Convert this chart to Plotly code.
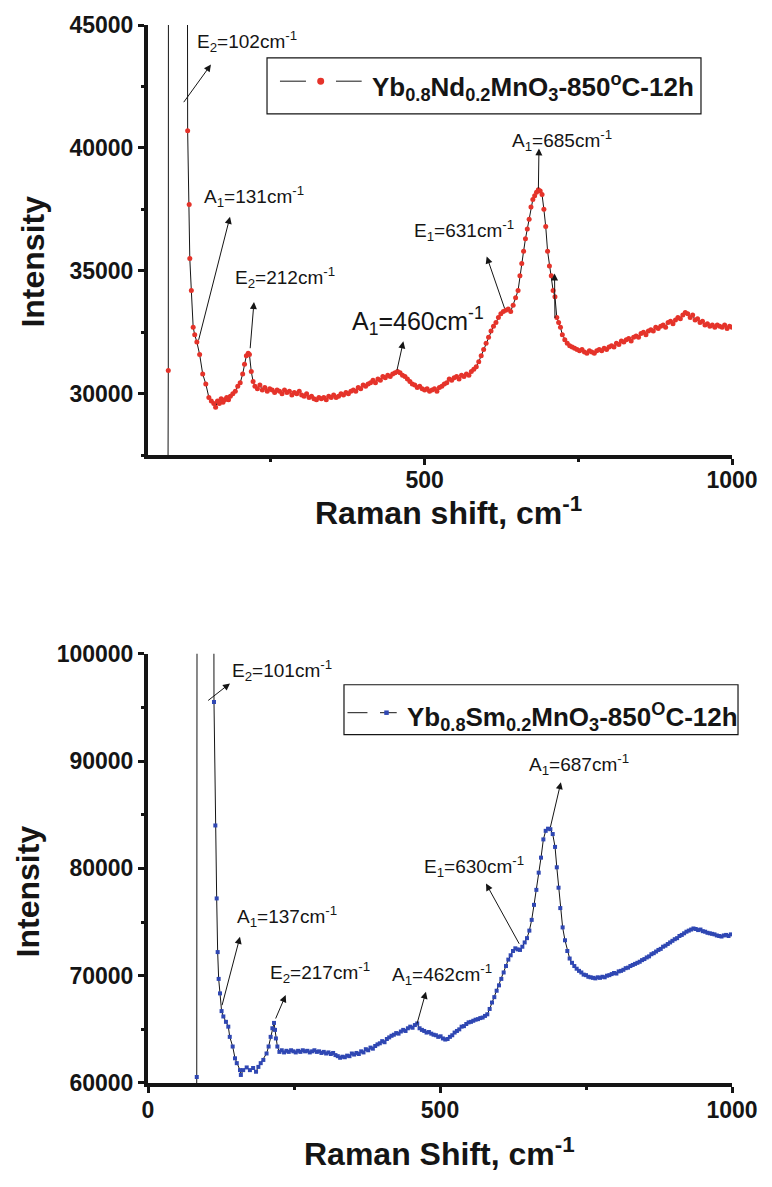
import plotly.graph_objects as go
from plotly.subplots import make_subplots

# ---- Raman spectrum: Yb0.8Nd0.2MnO3, 850 C, 12 h ----
nd_shift = [81, 83, 86, 100, 111, 114.5, 117, 118, 120.5, 123.5, 126, 129.5, 134, 139, 144, 149, 153, 157, 160, 163,
            166, 169, 172, 175, 178, 181, 184, 188, 192, 196, 200, 204, 207, 210, 213, 215, 218, 221, 224, 228,
            232, 236, 240, 244, 248, 252, 256, 260, 264, 268, 272, 276, 280, 284, 288, 292, 296, 300, 304, 308,
            312, 316, 320, 324, 328, 332, 336, 340, 344, 348, 352, 356, 360, 364, 368, 372, 376, 380, 384, 388,
            392, 396, 400, 404, 408, 412, 416, 420, 424, 428, 432, 436, 440, 444, 448, 452, 456, 460, 464, 468,
            472, 476, 480, 484, 488, 492, 496, 500, 504, 508, 512, 516, 520, 524, 528, 532, 536, 540, 544, 548,
            552, 556, 560, 564, 568, 572, 576, 580, 584, 588, 592, 596, 600, 604, 608, 612, 616, 620, 624, 628,
            632, 636, 640, 644, 648, 652, 655, 658, 661, 664, 667, 670, 673, 676, 679, 682, 685, 688, 691, 694,
            697, 700, 703, 706, 709, 712, 715, 718, 721, 724, 728, 732, 736, 740, 744, 748, 752, 756, 760, 764,
            768, 772, 776, 780, 784, 788, 792, 796, 800, 804, 808, 812, 816, 820, 824, 828, 832, 836, 840, 844,
            848, 852, 856, 860, 864, 868, 872, 876, 880, 884, 888, 892, 896, 900, 904, 908, 912, 916, 920, 924,
            928, 932, 936, 940, 944, 948, 952, 956, 960, 964, 968, 972, 976, 980, 984, 988, 992, 996, 1000]
nd_intensity = [12000, 30950, 230000, 380000, 110000, 40700, 37700, 35500, 34200, 32700, 32400, 32100, 31600, 30800, 30400, 29850, 29700, 29600, 29450, 29700,
                29600, 29800, 29650, 29750, 29850, 29750, 29900, 30000, 30100, 30300, 30450, 30800, 31200, 31550, 31650, 31600, 30900, 30500, 30300, 30200,
                30350, 30150, 30250, 30100, 30200, 30150, 30050, 30150, 30100, 30000, 30150, 30050, 30100, 29950, 30050, 30000, 30100, 29950, 29900, 30000,
                29850, 29900, 29800, 29750, 29850, 29800, 29850, 29750, 29900, 29850, 29950, 29850, 29900, 30000, 29950, 30050, 30000, 30100, 30150, 30100,
                30250, 30200, 30350, 30300, 30400, 30450, 30550, 30450, 30600, 30550, 30700, 30650, 30750, 30700, 30800, 30850, 30900, 30850, 30750, 30700,
                30600, 30500, 30400, 30350, 30250, 30300, 30200, 30150, 30200, 30100, 30150, 30200, 30100, 30250, 30300, 30400, 30450, 30600, 30550, 30650,
                30700, 30600, 30750, 30700, 30800, 30750, 30900, 31000, 31100, 31300, 31550, 31800, 32050, 32300, 32550, 32750, 32900, 33100, 33250, 33350,
                33400, 33450, 33350, 33600, 33900, 34200, 34800, 35300, 35800, 36300, 36700, 37100, 37600, 37900, 38050, 38200, 38300, 38250, 38100, 37500,
                36800, 35800, 35200, 34800, 34200, 33950, 33100, 32900, 32700, 32400, 32200, 32050, 31950, 31900, 31850, 31800, 31750, 31800, 31700, 31650,
                31750, 31700, 31650, 31750, 31800, 31750, 31850, 31800, 31900, 31950, 31900, 32050, 32000, 32150, 32100, 32200, 32250, 32150, 32300, 32350,
                32300, 32450, 32500, 32400, 32550, 32600, 32550, 32700, 32650, 32750, 32800, 32700, 32900, 32950, 32850, 33000, 33100, 33050, 33200, 33300,
                33250, 33100, 33200, 33000, 33050, 32900, 32950, 32800, 32850, 32750, 32800, 32700, 32800, 32750, 32700, 32800, 32650, 32750, 32700]

# ---- Raman spectrum: Yb0.8Sm0.2MnO3, 850 C, 12 h ----
sm_shift = [81, 83.5, 86, 100, 110, 113, 115.3, 117.6, 119.3, 121, 123.3, 126, 129, 133.5, 137.5, 140, 145, 149, 152, 157.5,
            159, 163, 169, 174.5, 180, 185, 189, 193, 197.5, 203, 206.5, 210, 213, 215.8, 217.5, 219, 221.5, 225, 229, 233,
            237, 241, 245, 249, 253, 257, 261, 265, 269, 273, 277, 281, 285, 289, 293, 297, 301, 305, 309, 313,
            317, 321, 325, 329, 333, 337, 341, 345, 349, 353, 357, 361, 365, 369, 373, 377, 381, 385, 389, 393,
            397, 401, 405, 409, 413, 417, 421, 425, 429, 433, 437, 441, 445, 449, 453, 457, 461, 465, 469, 473,
            477, 481, 485, 489, 493, 497, 501, 505, 509, 513, 517, 521, 525, 529, 533, 537, 541, 545, 549, 553,
            557, 561, 565, 569, 573, 577, 581, 585, 589, 593, 597, 601, 605, 609, 613, 617, 621, 625, 629, 633,
            637, 641, 645, 649, 653, 657, 661, 665, 669, 673, 677, 681, 685, 689, 693, 697, 700, 703, 706, 710,
            714, 718, 722, 726, 730, 734, 738, 742, 746, 750, 754, 758, 762, 766, 770, 774, 778, 782, 786, 790,
            794, 798, 802, 806, 810, 814, 818, 822, 826, 830, 834, 838, 842, 846, 850, 854, 858, 862, 866, 870,
            874, 878, 882, 886, 890, 894, 898, 902, 906, 910, 914, 918, 922, 926, 930, 934, 938, 942, 946, 950,
            954, 958, 962, 966, 970, 974, 978, 982, 986, 990, 994, 998]
sm_intensity = [40000, 60560, 300000, 500000, 200000, 95500, 84000, 77200, 72200, 69700, 68350, 66700, 66200, 65700, 65250, 64300, 63400, 62300, 61850, 61200,
                60750, 61200, 61450, 61200, 61400, 61050, 61500, 61850, 62150, 62750, 63400, 64300, 65100, 65600, 64950, 64150, 63400, 62900, 63050, 62850,
                63000, 62900, 63050, 62950, 62850, 63000, 62900, 63050, 62950, 63000, 62850, 62950, 63050, 62900, 62950, 62800, 62900, 62750, 62850, 62700,
                62800, 62600, 62500, 62350, 62450, 62400, 62550, 62500, 62750, 62650, 62800, 62700, 62950, 62850, 63150, 63050, 63300, 63200, 63450, 63600,
                63700, 63900, 63800, 64100, 64250, 64400, 64500, 64650, 64600, 64800, 64950, 64850, 65100, 65250, 65150, 65400, 65550, 65100, 64950, 64850,
                64700, 64750, 64600, 64500, 64450, 64300, 64350, 64150, 64050, 64100, 64300, 64450, 64700, 64850, 65000, 65250, 65300, 65500, 65650, 65700,
                65800, 65900, 65950, 66050, 66100, 66250, 66400, 66900, 67500, 68000, 68600, 69100, 69700, 70300, 70900, 71500, 71900, 72300, 72550, 72450,
                72400, 72700, 73100, 73500, 74200, 75200, 76600, 78000, 79600, 81000, 82700, 83500, 83700, 83650, 83200, 82000, 80100, 78200, 76300, 74500,
                73300, 72300, 71600, 71200, 70900, 70650, 70450, 70300, 70100, 70050, 69900, 69850, 69800, 69750, 69850, 69800, 69900, 69850, 70000, 70050,
                70150, 70250, 70200, 70400, 70450, 70550, 70700, 70750, 70900, 71000, 71100, 71200, 71300, 71450, 71550, 71700, 71800, 72000, 72100, 72250,
                72400, 72500, 72700, 72800, 72950, 73100, 73250, 73400, 73500, 73700, 73800, 73950, 74100, 74200, 74300, 74400, 74350, 74250, 74300, 74150,
                74100, 74000, 73950, 73900, 73850, 73750, 73700, 73650, 73750, 73800, 73700, 73850]

# Peak assignments: (label, label x, label y, arrow tail x, tail y, arrow head x, head y, font size)
nd_peaks = [
    ("E<sub>2</sub>=102cm<sup>-1</sup>", 126, 44310, 106.4, 41800, 152.4, 43390, 19),
    ("A<sub>1</sub>=131cm<sup>-1</sup>", 137.4, 38020, 131.8, 32130, 183.4, 37200, 19),
    ("E<sub>2</sub>=212cm<sup>-1</sup>", 188.3, 34730, 216, 31790, 222.4, 33730, 19),
    ("A<sub>1</sub>=460cm<sup>-1</sup>", 378.6, 32940, 454.6, 30910, 465.4, 32130, 25),
    ("E<sub>1</sub>=631cm<sup>-1</sup>", 479, 36640, 630.8, 33420, 601, 35580, 19),
    ("A<sub>1</sub>=685cm<sup>-1</sup>", 639, 40290, 685, 38290, 686, 39980, 19),
    ("", None, None, 712, 33020, 711.3, 34890, 19),
]
sm_peaks = [
    ("E<sub>2</sub>=101cm<sup>-1</sup>", 140.4, 98420, 100.5, 95540, 140.4, 97240, 19),
    ("A<sub>1</sub>=137cm<sup>-1</sup>", 149, 75530, 126.2, 67110, 157.5, 73620, 19),
    ("E<sub>2</sub>=217cm<sup>-1</sup>", 206, 70330, 217.5, 65870, 235.8, 68190, 19),
    ("A<sub>1</sub>=462cm<sup>-1</sup>", 414, 70140, 460, 65400, 476, 68500, 19),
    ("E<sub>1</sub>=630cm<sup>-1</sup>", 468.7, 80190, 637, 72840, 578.8, 78580, 19),
    ("A<sub>1</sub>=687cm<sup>-1</sup>", 648.4, 89680, 688.4, 83700, 707, 88030, 19),
]

nd_name = "<b>Yb<sub>0.8</sub>Nd<sub>0.2</sub>MnO<sub>3</sub>-850<sup>o</sup>C-12h</b>"
sm_name = "<b>Yb<sub>0.8</sub>Sm<sub>0.2</sub>MnO<sub>3</sub>-850<sup>O</sup>C-12h</b>"

FONT = "Liberation Sans, Arial, sans-serif"
INK = "#151515"
RED = "#e5332a"
BLUE = "#2f47b3"

fig = make_subplots(rows=2, cols=1)

fig.add_trace(go.Scatter(x=nd_shift, y=nd_intensity, mode="lines+markers", name=nd_name,
                         line=dict(color=INK, width=1),
                         marker=dict(color=RED, size=5, symbol="circle"),
                         showlegend=False), row=1, col=1)
fig.add_trace(go.Scatter(x=sm_shift, y=sm_intensity, mode="lines+markers", name=sm_name,
                         line=dict(color=INK, width=1),
                         marker=dict(color=BLUE, size=4, symbol="square"),
                         showlegend=False), row=2, col=1)

axis_common = dict(showline=True, linecolor=INK, linewidth=4, ticks="outside", ticklen=6,
                   tickwidth=3, tickcolor=INK, showgrid=False, zeroline=False, mirror=False,
                   tickformat="d",
                   tickfont=dict(family=FONT, size=23, color=INK, weight="bold"))

fig.update_xaxes(range=[50, 1000], tickvals=[500, 1000], ticklabelstandoff=-5,
                 minor=dict(dtick=250, tick0=0, ticks="outside", ticklen=3, tickwidth=3, tickcolor=INK),
                 row=1, col=1, **axis_common)
fig.update_xaxes(range=[0, 1000], tickvals=[0, 500, 1000], ticklabelstandoff=-3,
                 minor=dict(dtick=250, tick0=0, ticks="outside", ticklen=3, tickwidth=3, tickcolor=INK),
                 row=2, col=1, **axis_common)
fig.update_yaxes(range=[27500, 45000], tickvals=[30000, 35000, 40000, 45000], domain=[0.5934, 1.0],
                 minor=dict(dtick=2500, tick0=0, ticks="outside", ticklen=3, tickwidth=3, tickcolor=INK),
                 row=1, col=1, **axis_common)
fig.update_yaxes(range=[60000, 100000], tickvals=[60000, 70000, 80000, 90000, 100000], domain=[0.0, 0.4057],
                 minor=dict(dtick=5000, tick0=0, ticks="outside", ticklen=3, tickwidth=3, tickcolor=INK),
                 row=2, col=1, **axis_common)

annotations = []
shapes = []


def add_peaks(peaks, xr, yr):
    for text, tx, ty, x0, y0, x1, y1, size in peaks:
        annotations.append(dict(x=x1, y=y1, ax=x0, ay=y0, xref=xr, yref=yr, axref=xr, ayref=yr,
                                text="", showarrow=True, arrowhead=2, arrowsize=1.4,
                                arrowwidth=1, arrowcolor=INK, standoff=0, startstandoff=0))
        if text:
            annotations.append(dict(x=tx, y=ty, xref=xr, yref=yr, text=text, showarrow=False,
                                    xanchor="left", yanchor="middle",
                                    font=dict(family=FONT, size=size, color=INK)))


add_peaks(nd_peaks, "x", "y")
add_peaks(sm_peaks, "x2", "y2")

# Axis titles
title_font = dict(family=FONT, size=32, color=INK, weight="bold")
annotations += [
    dict(x=0.5137, y=0.5406, xref="paper", yref="paper", text="Raman shift, cm<sup>-1</sup>",
         showarrow=False, xanchor="center", yanchor="middle", font=title_font),
    dict(x=0.4983, y=-0.0651, xref="paper", yref="paper", text="Raman Shift, cm<sup>-1</sup>",
         showarrow=False, xanchor="center", yanchor="middle", font=title_font),
    dict(x=-0.1969, y=0.7764, xref="paper", yref="paper", text="Intensity", textangle=-90,
         showarrow=False, xanchor="center", yanchor="middle", font=title_font),
    dict(x=-0.2055, y=0.1811, xref="paper", yref="paper", text="Intensity", textangle=-90,
         showarrow=False, xanchor="center", yanchor="middle", font=title_font),
]

# Legend boxes (paper coordinates)
legend_font = dict(family=FONT, size=26, color=INK)


def add_legend(box, seg1, seg2, yc, marker, text_x, text_y, name):
    x0, x1, y0, y1 = box
    shapes.append(dict(type="rect", xref="paper", yref="paper", x0=x0, x1=x1, y0=y0, y1=y1,
                       line=dict(color=INK, width=1.2), fillcolor="white", layer="above"))
    for a, b in (seg1, seg2):
        shapes.append(dict(type="line", xref="paper", yref="paper", x0=a, x1=b, y0=yc, y1=yc,
                           line=dict(color=INK, width=1), layer="above"))
    kind, mx, mw, mh, color = marker
    shapes.append(dict(type=kind, xref="paper", yref="paper", x0=mx - mw / 2, x1=mx + mw / 2,
                       y0=yc - mh / 2, y1=yc + mh / 2, fillcolor=color, line=dict(width=0),
                       layer="above"))
    annotations.append(dict(x=text_x, y=text_y, xref="paper", yref="paper", text=name,
                            showarrow=False, xanchor="left", yanchor="middle", font=legend_font))


add_legend((0.2038, 0.9469, 0.9160, 0.9689), (0.2260, 0.2705), (0.3219, 0.3659), 0.9469,
           ("circle", 0.2957, 7 / 584, 7 / 1060, RED), 0.3801, 0.9410, nd_name)
add_legend((0.3356, 1.0103, 0.3292, 0.3764), (0.3416, 0.3758), (0.3973, 0.4259), 0.3500,
           ("rect", 0.4084, 4.5 / 584, 4.5 / 1060, BLUE), 0.4401, 0.3460, sm_name)

fig.update_layout(width=772, height=1187, margin=dict(l=148, r=40, t=23, b=104),
                  paper_bgcolor="white", plot_bgcolor="white", showlegend=False,
                  annotations=annotations, shapes=shapes,
                  font=dict(family=FONT, color=INK))

fig.write_html("out.html")
